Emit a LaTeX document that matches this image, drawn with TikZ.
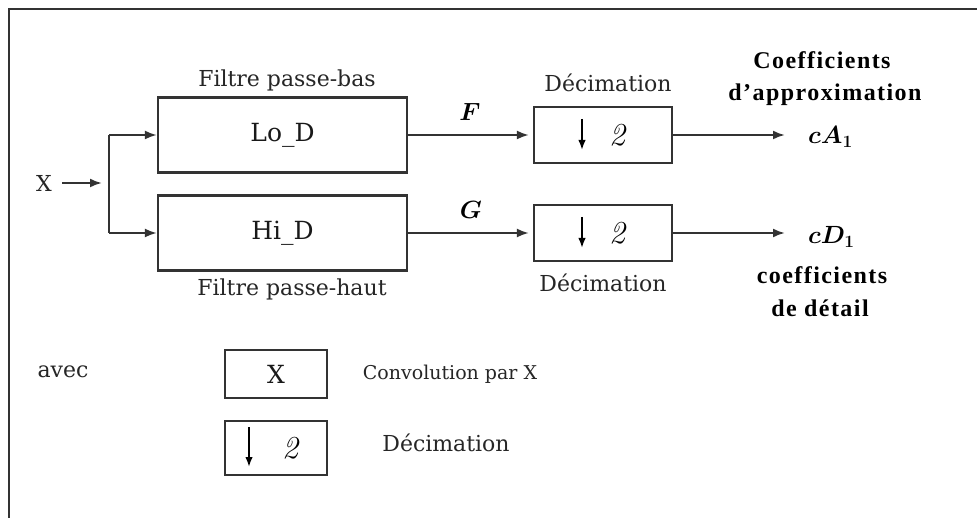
\documentclass[tikz,border=0pt]{standalone}
\usepackage{fontspec}
\newfontfamily\boldserif[LetterSpace=6]{Liberation Serif}
\newfontfamily\wideserif{DejaVu Serif}
\usetikzlibrary{arrows.meta}

\definecolor{ink}{HTML}{333333}

\tikzset{
  txt/.style={inner sep=0pt, text=black!85,
    font=\wideserif\fontsize{22}{26}\selectfont},
  boxtxt/.style={inner sep=0pt, text=black!90,
    font=\wideserif\fontsize{25}{29}\selectfont},
  smalltxt/.style={inner sep=0pt, text=black!85,
    font=\wideserif\fontsize{19}{23}\selectfont},
  boldtxt/.style={inner sep=0pt, text=black,
    font=\boldserif\bfseries\fontsize{24}{28}\selectfont},
  mth/.style={inner sep=0pt, text=black, font=\fontsize{25}{29}\selectfont\boldmath},
  digit/.style={inner sep=0pt, text=black, font=\fontsize{32}{36}\selectfont\itshape},
  wire/.style={draw=ink, line width=2.2pt},
  arr/.style={wire, -{Latex[length=12pt,width=9pt]}},
  darr/.style={draw=black, line width=1.7pt, -{Latex[length=10pt,width=7.5pt]}},
  blk/.style={draw=ink, line width=2.2pt, fill=white, inner sep=0pt, boxtxt},
  filterbox/.style={blk, minimum width=249pt, minimum height=75pt},
  decbox/.style={blk, minimum width=138pt, minimum height=56pt},
  frameline/.style={draw=black!80, line width=2pt}
}

\begin{document}
\begin{tikzpicture}[x=1pt,y=-1pt]
\useasboundingbox (0,0) rectangle (977,518);
\fill[white] (0,0) rectangle (977,518);

% outer frame (top and left edges)
\draw[frameline] (9,518) -- (9,9) -- (977,9);

% input and split
\node[txt] (xin) at (44,183) {X};
\coordinate (j) at (102,183);
\coordinate (s1) at (109,135);
\coordinate (s2) at (109,233);

% analysis filters
\node[filterbox] (lo) at (282.5,135) {Lo\_D};
\node[filterbox] (hi) at (282.5,233) {Hi\_D};
\node[txt] (lotitle) at (287,80) {Filtre passe-bas};
\node[txt] (hititle) at (292,289) {Filtre passe-haut};

% downsampling blocks
\node[decbox] (d1) at (603,135) {};
\node[decbox] (d2) at (603,233) {};
\node[digit] (two1) at ([xshift=14pt]d1.center) {2};
\node[digit] (two2) at ([xshift=14pt]d2.center) {2};
\draw[darr] ([xshift=-21pt,yshift=16pt]d1.center) -- ([xshift=-21pt,yshift=-15pt]d1.center);
\draw[darr] ([xshift=-21pt,yshift=16pt]d2.center) -- ([xshift=-21pt,yshift=-15pt]d2.center);
\node[txt] (d1title) at (608,83) {Décimation};
\node[txt] (d2title) at (603,283) {Décimation};

% signal labels
\node[mth] (F) at (470,112) {$F$};
\node[mth] (G) at (471,210) {$G$};
\node[mth, anchor=west] (cA) at (808,137) {$cA_1$};
\node[mth, anchor=west] (cD) at (808,237) {$cD_1$};

% output captions
\node[boldtxt] (t1) at (822,60) {Coefficients};
\node[boldtxt] (t2) at (825,95) {d’approximation};
\node[boldtxt] (t3) at (822,275) {coefficients};
\node[boldtxt] (t4) at (820,308) {de détail};

% connectors
\draw[arr, shorten <=10pt] (xin) -- (j);
\draw[wire] (s1) -- (s2);
\draw[arr] (s1) -- (s1 -| lo.west);
\draw[arr] (s2) -- (s2 -| hi.west);
\draw[arr, shorten >=4pt] (lo.east) -- (d1.west);
\draw[arr, shorten >=4pt] (hi.east) -- (d2.west);
\draw[arr, shorten >=23pt] (d1.east) -- (d1.east -| cA.west);
\draw[arr, shorten >=23pt] (d2.east) -- (d2.east -| cD.west);

% legend
\node[txt] (avec) at (63,372) {avec};
\node[blk, minimum width=102pt, minimum height=48pt] (kconv) at (276,374) {X};
\node[blk, minimum width=102pt, minimum height=54pt] (kdec) at (276,448) {};
\node[digit] (ktwo) at ([xshift=14pt]kdec.center) {2};
\draw[darr] ([xshift=-27pt,yshift=21pt]kdec.center) -- ([xshift=-27pt,yshift=-19pt]kdec.center);
\node[smalltxt] (kconvtxt) at (450,374) {Convolution par X};
\node[txt] (kdectxt) at (446,443) {Décimation};
\end{tikzpicture}
\end{document}
